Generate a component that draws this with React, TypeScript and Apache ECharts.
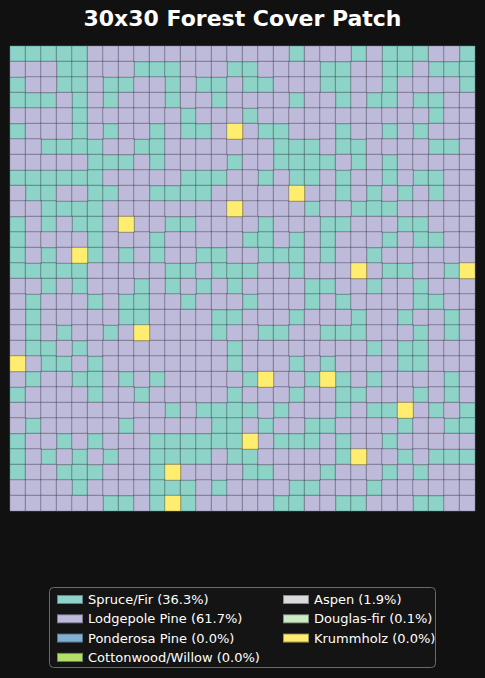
import React, { useEffect, useRef } from "react";
import * as echarts from "echarts";

// Grid rows, top to bottom. G = Spruce/Fir, P = Lodgepole Pine, Y = Krummholz
const gridRows: string[] = [
  "GGGGGPPPPPPPPPPPPPGPPPGPGGGPPG",
  "PPPGGPPPGGGPPPGGPPPPGGPPGGPGGG",
  "GPPGGPGGPPGPGGPGGPPPGGPPGPPPPG",
  "GGGPGPGPPPGPPGPPPPGPPGPGGPGGPP",
  "PPPPGPPPPPPGPPPGPPPPPPPPPPPGPP",
  "GPPPGPGPPGPGGPYPGGPPPGPPGPGPPP",
  "PPGGGGPPGGPPPPPPPGGGPGGPPPPGGP",
  "PPPPPGGGPGPPPPGPPGGGGPGPGPPPPP",
  "GGGGGGPPPPPGGGPPGPGGPGPPGPGGPP",
  "PGGPPGGPPGGGGPPPPPYPPGPGPGPGPP",
  "PPGGGGPPPPPPPPYPPPPGPPGGGPPPPP",
  "GPGPGGPYPPGGPPPPGPPPGGPPPGGPPP",
  "GPPPPGPPPGPPPPPGGPGPGPPPGPGGPP",
  "GPGPYGPGPGPPGGPPGGGPGPPGPPPPPP",
  "GGGGGPPPPPGGPGGGPPGPPPYPGGPPGY",
  "PPGPGPPPGPGPGPGPPPPGGPPGPPGPPP",
  "PGPPPGPGGPPGPPPGPPPGPGPPPPGGPP",
  "PGPPPPPGGPPPPGGPPPGPPPGPPGPPGP",
  "PGPGPPGPYPPPPGPPGGPPGGGPPPGPGP",
  "PGGPGPPPPPPPPPGPPPPPPPPGPGGPPP",
  "YPGGPGPPPPPPPPGPPPGPGPPPPGGPPP",
  "PGPPGGPGPGPPPPPGYPPGYGPGPPPPGP",
  "GPPPPGPPGPPPPPGPPPGPPGGPPPGPGP",
  "PPPPPPPPPPGPGGGGPGPPPGPGGYPGPG",
  "PGPPPPPGPPPPPGGPGPPGGPPPPGPPGG",
  "GPPGPGPPPGGGGGGYPGGGPGPPGPPPPP",
  "GPGPGPGPPGGGGPGGPPPPPGYPPGPGGG",
  "GPPGGGPPPGYPPPPGGPPPGPPPGPGPPP",
  "PPPPGPPPPGGGPGPPPPGGPPPGPPPPPP",
  "PPPPPPGGPGYGPPPPPGGPPGGPPPGGPP",
];

const classNames: string[] = [
  "Spruce/Fir",
  "Lodgepole Pine",
  "Ponderosa Pine",
  "Cottonwood/Willow",
  "Aspen",
  "Douglas-fir",
  "Krummholz",
];
const classShares: string[] = ["36.3", "61.7", "0.0", "0.0", "1.9", "0.1", "0.0"];
const classColors: string[] = [
  "#8dd3c7",
  "#bebada",
  "#80b1d3",
  "#b3de69",
  "#d9d9d9",
  "#ccebc5",
  "#ffed6f",
];
const codeToClass: Record<string, number> = { G: 0, P: 1, Y: 6 };

const colCategories: string[] = Array.from({ length: 30 }, (_, i) => String(i));
const rowCategories: string[] = Array.from({ length: 30 }, (_, i) => String(i));

export default function App() {
  const ref = useRef<HTMLDivElement>(null);

  useEffect(() => {
    if (!ref.current) return;
    const chart = echarts.init(ref.current, undefined, { renderer: "svg" });

    const labels = classNames.map((n, i) => `${n} (${classShares[i]}%)`);
    const buckets: number[][][] = classNames.map(() => []);
    gridRows.forEach((row, y) => {
      row.split("").forEach((ch, x) => {
        const k = codeToClass[ch];
        buckets[k].push([x, y, k]);
      });
    });

    const series = classNames.map((_, i) => ({
      type: "heatmap",
      name: labels[i],
      data: buckets[i],
      itemStyle: {
        color: classColors[i],
        borderColor: "rgba(20,20,30,0.4)",
        borderWidth: 0.8,
      },
      emphasis: { disabled: true },
    }));

    const legendText = {
      color: "#ffffff",
      fontSize: 13,
      lineHeight: 13,
      fontFamily: "DejaVu Sans",
    };

    const legendBase = {
      orient: "vertical",
      top: 593,
      padding: 0,
      itemWidth: 26,
      itemHeight: 9,
      itemGap: 6.3,
      icon: "rect",
      selectedMode: false,
      textStyle: legendText,
      z: 10,
    };

    chart.setOption({
      animation: false,
      backgroundColor: "#111111",
      title: {
        text: "30x30 Forest Cover Patch",
        left: "center",
        top: 7,
        padding: 0,
        textStyle: {
          color: "#ffffff",
          fontSize: 22,
          fontWeight: "bold",
          fontFamily: "DejaVu Sans",
        },
      },
      grid: {
        left: 10,
        top: 46,
        width: 465,
        height: 465,
        show: true,
        borderColor: "#000000",
        borderWidth: 1.5,
        backgroundColor: "transparent",
      },
      xAxis: {
        type: "category",
        data: colCategories,
        show: false,
      },
      yAxis: {
        type: "category",
        data: rowCategories,
        inverse: true,
        show: false,
      },
      visualMap: {
        type: "piecewise",
        show: false,
        dimension: 2,
        pieces: classColors.map((c, i) => ({ value: i, color: c })),
      },
      graphic: [
        {
          type: "rect",
          z: 0,
          shape: { x: 49.5, y: 587.5, width: 386, height: 80, r: 4 },
          style: { fill: "#141414", stroke: "#6a6a6a", lineWidth: 1 },
        },
      ],
      legend: [
        { ...legendBase, data: labels.slice(0, 4), left: 56 },
        { ...legendBase, data: labels.slice(4), left: 282 },
      ],
      series,
    });

    return () => {
      chart.dispose();
    };
  }, []);

  return (
    <div
      ref={ref}
      style={{ position: "fixed", left: 0, top: 0, width: 485, height: 678 }}
    />
  );
}
